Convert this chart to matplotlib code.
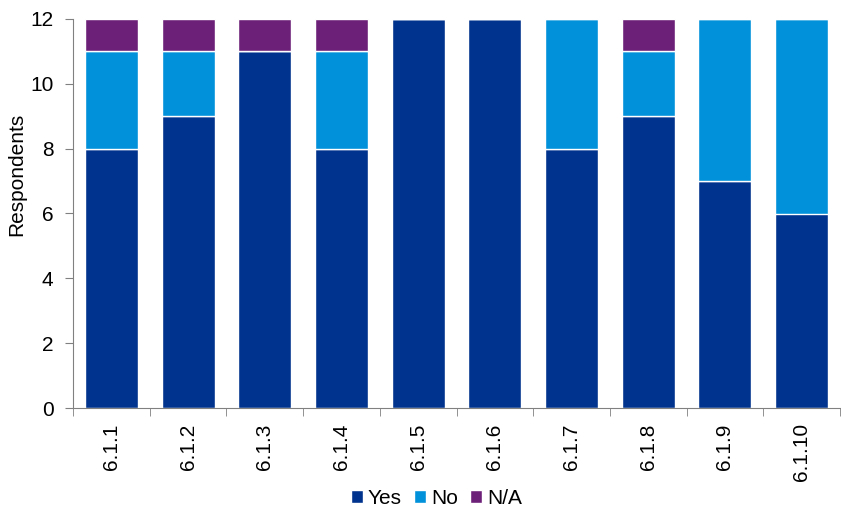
import matplotlib.pyplot as plt
import numpy as np

plt.rcParams['font.family'] = ['Liberation Sans', 'DejaVu Sans']
plt.rcParams['font.size'] = 15

categories = ['6.1.1', '6.1.2', '6.1.3', '6.1.4', '6.1.5', '6.1.6', '6.1.7', '6.1.8', '6.1.9', '6.1.10']
yes = [8, 9, 11, 8, 12, 12, 8, 9, 7, 6]
no = [3, 2, 0, 3, 0, 0, 4, 2, 5, 6]
na = [1, 1, 1, 1, 0, 0, 0, 1, 0, 0]

fig = plt.figure(figsize=(8.41, 5.13), dpi=100)
ax = fig.add_axes([73 / 841, 105 / 513, 767 / 841, 389 / 513])

x = np.arange(len(categories))
w = 0.69
yes = np.array(yes)
no = np.array(no)
na = np.array(na)
ax.bar(x, yes, w, color='#00338D', edgecolor='white', linewidth=1, label='Yes')
ax.bar(x, no, w, bottom=yes, color='#0091DA', edgecolor='white', linewidth=1, label='No')
ax.bar(x, na, w, bottom=yes + no, color='#6D2077', edgecolor='white', linewidth=1, label='N/A')

ax.set_xlim(-0.5, len(categories) - 0.5)
ax.set_ylim(0, 12)
ax.set_yticks(range(0, 13, 2))
ax.set_ylabel('Respondents')
ax.yaxis.set_label_coords(-47 / 767, 0.6)

ax.set_xticks(x)
ax.set_xticklabels(categories, rotation=90)
ax.tick_params(axis='x', length=0, pad=11)
ax.set_xticks(np.arange(-0.5, len(categories), 1), minor=True)
ax.tick_params(axis='x', which='minor', length=6, color='#808080')
ax.tick_params(axis='y', length=6, color='#808080', pad=8)

for s in ['top', 'right']:
    ax.spines[s].set_visible(False)
ax.spines['left'].set_color('#808080')
ax.spines['bottom'].set_color('#808080')

ax.legend(loc='lower center', bbox_to_anchor=(0.5 - 20 / 767, -0.305), ncol=3, frameon=False,
          handlelength=0.55, handleheight=0.55, handletextpad=0.25, columnspacing=0.6)

fig.savefig('out.png')
